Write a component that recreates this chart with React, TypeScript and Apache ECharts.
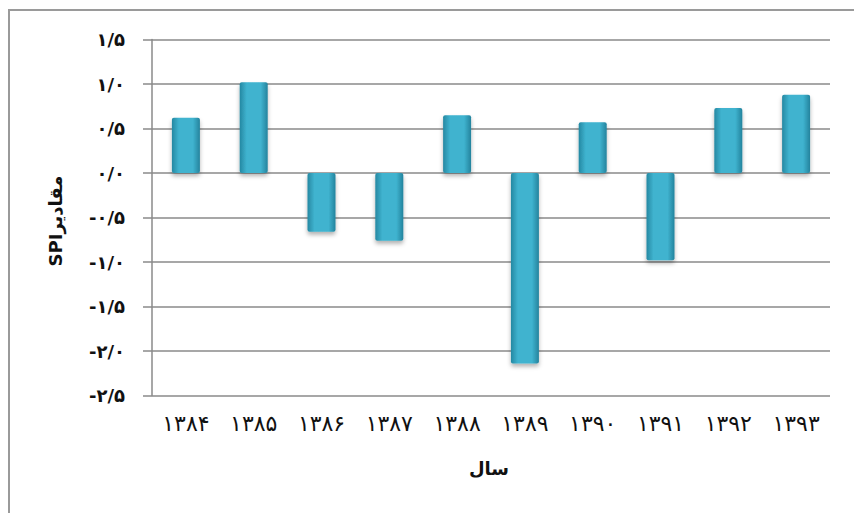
import React, { useEffect, useRef } from "react";
import * as echarts from "echarts";

const categories = ["۱۳۸۴", "۱۳۸۵", "۱۳۸۶", "۱۳۸۷", "۱۳۸۸", "۱۳۸۹", "۱۳۹۰", "۱۳۹۱", "۱۳۹۲", "۱۳۹۳"];
const spiValues = [0.62, 1.02, -0.66, -0.76, 0.65, -2.14, 0.57, -0.98, 0.73, 0.88];
const yTickValues = [-2.5, -2.0, -1.5, -1.0, -0.5, 0.0, 0.5, 1.0, 1.5];
const yTickLabels = ["-۲/۵", "-۲/۰", "-۱/۵", "-۱/۰", "-۰/۵", "۰/۰", "۰/۵", "۱/۰", "۱/۵"];
const xAxisTitle = "سال";
const yAxisTitle = "مقادیرSPI";

export default function App() {
  const ref = useRef<HTMLDivElement>(null);
  useEffect(() => {
    if (!ref.current) return;
    const chart = echarts.init(ref.current, undefined, { renderer: "svg" });
    const barColor = new echarts.graphic.LinearGradient(0, 0, 1, 0, [
      { offset: 0, color: "#2588a2" },
      { offset: 0.25, color: "#3fb3cf" },
      { offset: 0.75, color: "#3fb3cf" },
      { offset: 1, color: "#24839d" },
    ]);
    chart.setOption({
      animation: false,
      backgroundColor: "#ffffff",
      grid: { left: 152, right: 24, top: 39.5, bottom: 117.5, containLabel: false },
      xAxis: {
        type: "category",
        data: categories,
        position: "bottom",
        axisLine: { show: false, onZero: false },
        axisTick: { show: false },
        axisLabel: {
          margin: 17,
          fontSize: 22,
          color: "#111",
          fontFamily: "DejaVu Sans",
        },
      },
      yAxis: {
        type: "value",
        min: -2.5,
        max: 1.5,
        interval: 0.5,
        axisLine: { show: true, lineStyle: { color: "#8a8a8a", width: 1.5 } },
        axisTick: { show: true, length: 9, lineStyle: { color: "#8a8a8a", width: 1.5 } },
        splitLine: { show: true, lineStyle: { color: "#8a8a8a", width: 1.5 } },
        axisLabel: {
          margin: 27,
          fontSize: 18,
          fontWeight: "bold",
          color: "#111",
          fontFamily: "DejaVu Sans",
          formatter: (v: number) => {
            const i = yTickValues.findIndex((t) => Math.abs(t - v) < 1e-6);
            return i >= 0 ? yTickLabels[i] : "";
          },
        },
      },
      series: [
        {
          type: "bar",
          data: spiValues,
          barWidth: 28,
          itemStyle: {
            color: barColor,
            borderRadius: 2,
            shadowColor: "rgba(0,0,0,0.3)",
            shadowBlur: 4,
            shadowOffsetY: 3,
          },
        },
      ],
      graphic: [
        {
          type: "polyline",
          shape: { points: [[9, 513], [9, 10], [854, 10]] },
          style: { stroke: "#9a9a9a", lineWidth: 2, fill: "none" },
          silent: true,
        },
        {
          type: "text",
          x: 55,
          y: 221,
          rotation: Math.PI / 2,
          style: {
            text: "\u202B" + yAxisTitle + "\u202C",
            fontSize: 18,
            fontWeight: "bold",
            fontFamily: "DejaVu Sans",
            fill: "#111",
            align: "center",
            verticalAlign: "middle",
          },
        },
        {
          type: "text",
          x: 489,
          y: 468,
          style: {
            text: xAxisTitle,
            fontSize: 18,
            fontWeight: "bold",
            fontFamily: "DejaVu Sans",
            fill: "#111",
            align: "center",
            verticalAlign: "middle",
          },
        },
      ],
    });
    return () => chart.dispose();
  }, []);
  return (
    <div
      ref={ref}
      style={{ position: "absolute", left: 0, top: 0, width: 854, height: 513 }}
    />
  );
}
